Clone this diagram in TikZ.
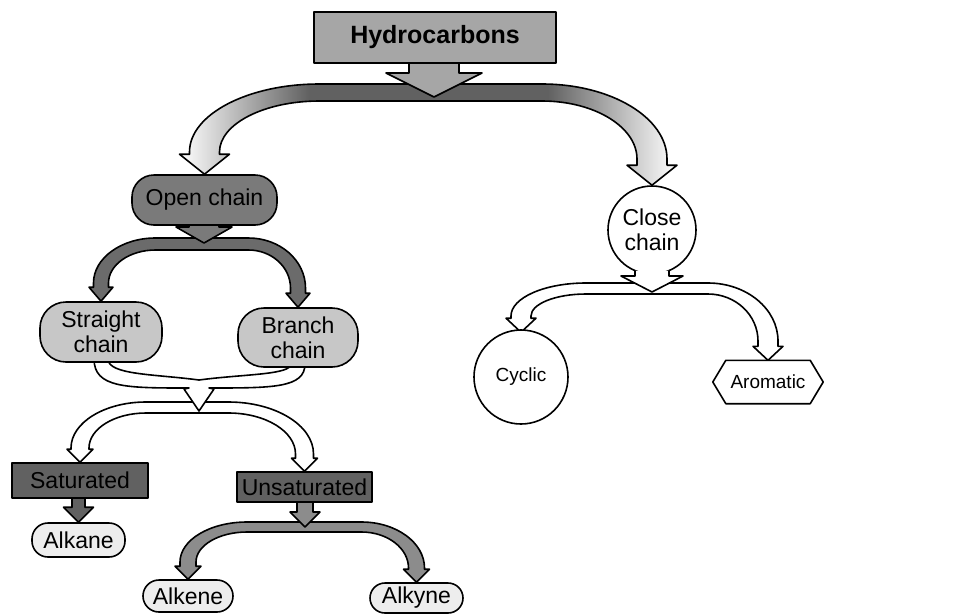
\documentclass[tikz,border=0pt]{standalone}
\usepackage{fontspec}
\setmainfont{Liberation Sans}
\usetikzlibrary{calc}
\pgfdeclarelayer{bg}
\pgfsetlayers{bg,main}
\pgfdeclarehorizontalshading{topband}{100bp}{color(0bp)=(white); color(25bp)=(white); color(38bp)=(black!62); color(62bp)=(black!62); color(75bp)=(white); color(100bp)=(white)}
\colorlet{hcgray}{black!35}
\colorlet{opengray}{black!52}
\colorlet{lgray}{black!22}
\colorlet{dgray}{black!62}
\colorlet{vlgray}{black!7}
\colorlet{obandgray}{black!58}
\colorlet{ubandgray}{black!45}
\def\Kc{0.552}
\newcommand\setband[8]{\def\BandT{#1}\def\BandS{#2}\def\HeadW{#3}\def\HeadL{#4}\def\RLx{#5}\def\RLy{#6}\def\RRx{#7}\def\RRy{#8}}
\newcommand\archband[4]{%
\path[#1] let \p1=(#2), \p2=(#3), \p3=(#4) in
 ({\x2-\BandS/2},{\y2+\HeadL})
 -- ({\x2-\BandS/2},{\y1-\RLy})
 .. controls ({\x2-\BandS/2},{\y1-\RLy+\Kc*\RLy}) and ({\x2-\BandS/2+\RLx-\Kc*\RLx},{\y1}) .. ({\x2-\BandS/2+\RLx},{\y1})
 -- ({\x3+\BandS/2-\RRx},{\y1})
 .. controls ({\x3+\BandS/2-\RRx+\Kc*\RRx},{\y1}) and ({\x3+\BandS/2},{\y1-\RRy+\Kc*\RRy}) .. ({\x3+\BandS/2},{\y1-\RRy})
 -- ({\x3+\BandS/2},{\y3+\HeadL})
 -- ({\x3+\HeadW},{\y3+\HeadL})
 -- (\x3,\y3)
 -- ({\x3-\HeadW},{\y3+\HeadL})
 -- ({\x3-\BandS/2},{\y3+\HeadL})
 -- ({\x3-\BandS/2},{\y1-\RRy})
 .. controls ({\x3-\BandS/2},{\y1-\RRy+\Kc*(\RRy-\BandT)}) and ({\x3+\BandS/2-\RRx+\Kc*(\RRx-\BandS)},{\y1-\BandT}) .. ({\x3+\BandS/2-\RRx},{\y1-\BandT})
 -- ({\x2-\BandS/2+\RLx},{\y1-\BandT})
 .. controls ({\x2-\BandS/2+\RLx-\Kc*(\RLx-\BandS)},{\y1-\BandT}) and ({\x2+\BandS/2},{\y1-\RLy+\Kc*(\RLy-\BandT)}) .. ({\x2+\BandS/2},{\y1-\RLy})
 -- ({\x2+\BandS/2},{\y2+\HeadL})
 -- ({\x2+\HeadW},{\y2+\HeadL})
 -- (\x2,\y2)
 -- ({\x2-\HeadW},{\y2+\HeadL})
 -- cycle;}
\newcommand\blockdown[6]{%
 \path[fill=#1] let \p1=(#2), \p2=(#3) in ({\x2-#4},\y1) -- ({\x2-#4},{\y2+#6}) -- ({\x2-#5},{\y2+#6}) -- (\x2,\y2) -- ({\x2+#5},{\y2+#6}) -- ({\x2+#4},{\y2+#6}) -- ({\x2+#4},\y1) -- cycle;
 \path[outl] let \p1=(#2), \p2=(#3) in ({\x2-#4},\y1) -- ({\x2-#4},{\y2+#6}) -- ({\x2-#5},{\y2+#6}) -- (\x2,\y2) -- ({\x2+#5},{\y2+#6}) -- ({\x2+#4},{\y2+#6}) -- ({\x2+#4},\y1);}
\begin{document}
\begin{tikzpicture}[x=1pt,y=-1pt,
  outl/.style={draw=black,line width=1.6pt,line join=round},
  lbl/.style={font=\fontsize{23}{25}\selectfont,align=center,inner sep=0pt},
  small/.style={font=\fontsize{19}{22}\selectfont,align=center,inner sep=0pt},
  pill/.style={lbl,outl,rounded corners=#1},
  box/.style={lbl,outl}]
\useasboundingbox (0,0) rectangle (955,614);

% nodes
\node[box,font=\bfseries\fontsize{25}{28}\selectfont,fill=hcgray,minimum width=242,minimum height=51] (hc) at (435,37.5) {Hydrocarbons};
\node[pill=22,fill=opengray,minimum width=145,minimum height=50] (open) at (204.5,200) {Open chain};
\node[lbl,outl,fill=white,circle,minimum size=88] (close) at (652,230) {Close\\chain};
\node[pill=26,fill=lgray,minimum width=122,minimum height=60] (straight) at (101,332) {Straight\\chain};
\node[pill=26,fill=lgray,minimum width=120,minimum height=59] (branch) at (298,337.5) {Branch\\chain};
\node[small,outl,fill=white,circle,minimum size=94] (cyclic) at (521,377) {Cyclic};
\node[small,minimum width=110,minimum height=43] (arom) at (768,382) {Aromatic};
\node[box,fill=dgray,minimum width=136,minimum height=35] (sat) at (80,480.5) {Saturated};
\node[box,fill=dgray,minimum width=135,minimum height=30] (unsat) at (304.5,487) {Unsaturated};
\node[pill=16,fill=vlgray,minimum width=93,minimum height=34] (alkane) at (78.5,540) {Alkane};
\node[pill=16,fill=vlgray,minimum width=90,minimum height=32] (alkene) at (188,596) {Alkene};
\node[pill=15,fill=vlgray,minimum width=93,minimum height=30] (alkyne) at (416.5,598) {Alkyne};

% junction points
\coordinate (j1) at (434,97);  \coordinate (b1) at (434,84);
\coordinate (j2) at (204,243); \coordinate (b2) at (204,238);
\coordinate (j3) at (652,292); \coordinate (b3) at (652,283);
\coordinate (j4) at (199,411); \coordinate (b4) at (200,402);
\coordinate (j5) at (305,527); \coordinate (b5) at (305,522);

% close chain outlet arrow (over the circle outline)
\blockdown{white}{$(close.south)+(0,-4)$}{j3}{17}{31}{16}

\begin{pgfonlayer}{bg}
\fill[white] (0,0) rectangle (955,614);
% Hydrocarbons -> open / close
\setband{17}{30}{25}{20}{130}{68}{125}{75}
\archband{outl,shade,shading=topband}{b1}{open.north}{close.north}
% open chain -> straight / branch
\setband{12}{15}{12}{14}{62}{45}{57}{50}
\archband{outl,fill=obandgray}{b2}{straight.north}{branch.north}
% close chain -> cyclic / aromatic
\setband{11}{20}{15}{14}{75}{33}{70}{58}
\archband{outl,fill=white}{b3}{$(cyclic.north)+(0,3)$}{arom.north}
% merge -> saturated / unsaturated
\setband{11}{18}{13}{13}{75}{46}{85}{52}
\archband{outl,fill=white}{b4}{sat.north}{unsat.north}
% unsaturated -> alkene / alkyne
\setband{10}{16}{13}{13}{67}{40}{63}{46}
\archband{outl,fill=ubandgray}{b5}{alkene.north}{alkyne.north}
% straight + branch merge
\path[outl,fill=white] let \p1=(straight.south), \p2=(branch.south), \p3=(j4) in
 ({\x1-7},{\y1+4})
 .. controls ({\x1-7},{\y3+23}) and ({\x1+25},{\y3+23}) .. ({\x3-10},{\y3+23})
 -- ({\x3-15},{\y3+22}) -- (\x3,\y3) -- ({\x3+15},{\y3+22}) -- ({\x3+10},{\y3+23})
 .. controls ({\x2-25},{\y3+23}) and ({\x2+7},{\y3+23}) .. ({\x2+7},{\y2+4})
 -- ({\x2-7},{\y2+4})
 .. controls ({\x2-7},{\y3+36}) and ({\x3+45},{\y3+37}) .. (\x3,{\y3+31})
 .. controls ({\x3-45},{\y3+37}) and ({\x1+7},{\y3+36}) .. ({\x1+7},{\y1+4})
 -- cycle;
% aromatic hexagon
\path[outl,fill=white] (arom.west) -- ($(arom.north west)+(13,0)$) -- ($(arom.north east)+(-13,0)$) -- (arom.east) -- ($(arom.south east)+(-13,0)$) -- ($(arom.south west)+(13,0)$) -- cycle;
% inlet arrows
\blockdown{hcgray}{$(hc.south)+(0,-4)$}{j1}{25}{48}{24}
\blockdown{opengray}{$(open.south)+(0,-4)$}{j2}{15}{28}{16}
\blockdown{dgray}{$(sat.south)+(0,-4)$}{alkane.north}{6.5}{15}{15}
\blockdown{ubandgray}{$(unsat.south)+(0,-4)$}{j5}{8}{15}{15}
\end{pgfonlayer}
\end{tikzpicture}
\end{document}
